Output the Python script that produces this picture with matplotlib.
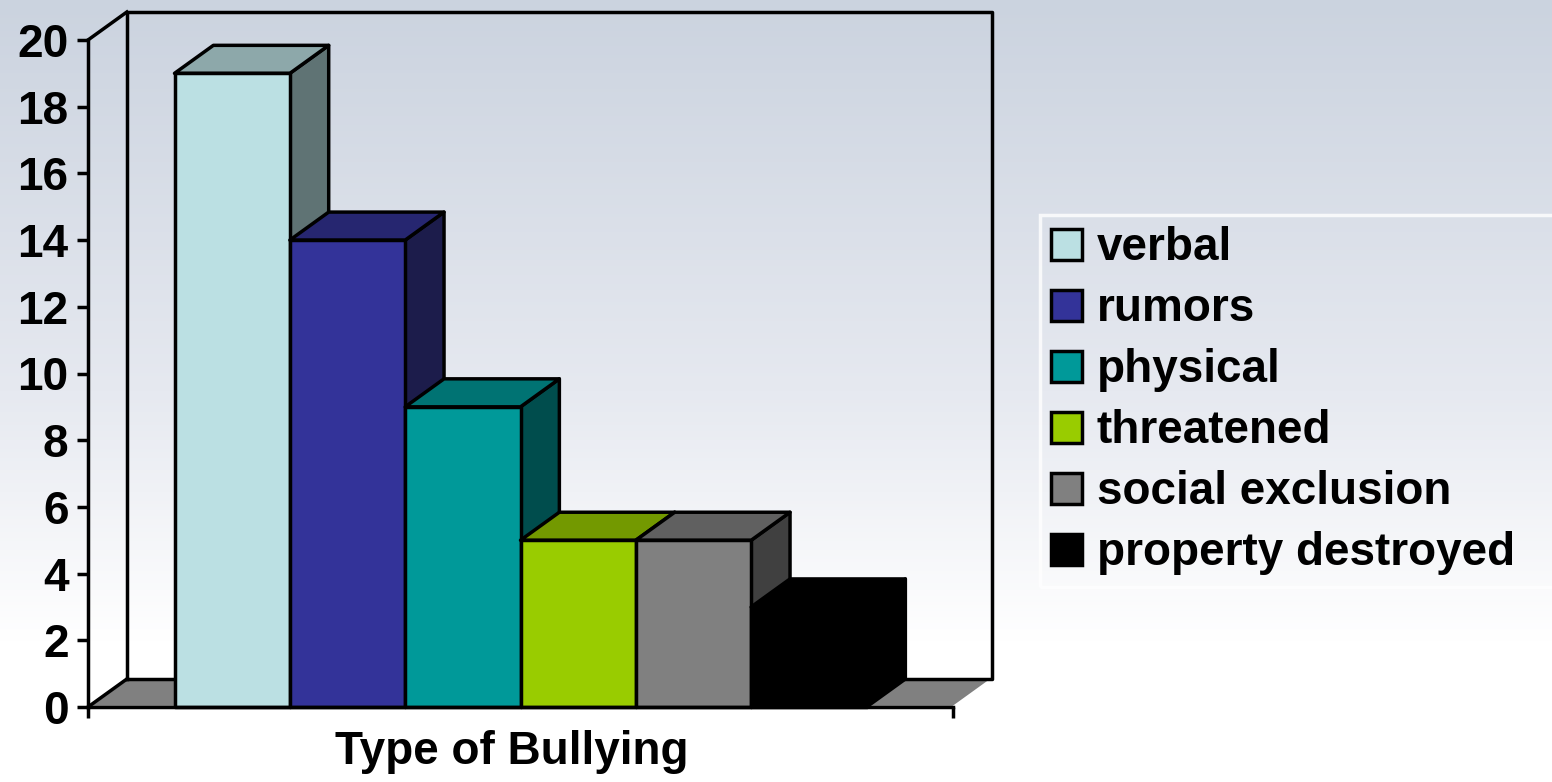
import numpy as np
import matplotlib
matplotlib.use("Agg")
import matplotlib.pyplot as plt
import matplotlib.patches as mpatches
from matplotlib.colors import LinearSegmentedColormap

plt.rcParams["font.family"] = ["Liberation Sans", "DejaVu Sans"]
plt.rcParams["font.weight"] = "bold"

# ── data ─────────────────────────────────────────────
categories = ["verbal", "rumors", "physical", "threatened",
              "social exclusion", "property destroyed"]
values = [19, 14, 9, 5, 5, 3]
y_ticks = [0, 2, 4, 6, 8, 10, 12, 14, 16, 18, 20]
x_label = "Type of Bullying"

front_colors = ["#BBE0E3", "#333399", "#009999", "#99CC00", "#808080", "#000000"]
top_colors   = ["#8DA8AA", "#262670", "#007373", "#739900", "#606060", "#000000"]
side_colors  = ["#5F7374", "#1C1C4B", "#004D4D", "#4D6600", "#404040", "#000000"]

# 3D look (data units): depth offset + gap on each side of the bar group
DX, DY = 0.337, 0.84
GAP = 0.75
LW = 2.5

W, H = 1552, 782
fig = plt.figure(figsize=(W / 100, H / 100), dpi=100)

# background gradient (blue-grey top -> white bottom)
bg = fig.add_axes([0, 0, 1, 1], zorder=-10)
cmap = LinearSegmentedColormap.from_list(
    "bg", [(0.0, "#CBD3DF"), (0.5, "#E6E9F0"), (0.82, "#FFFFFF"), (1.0, "#FFFFFF")])
grad = np.linspace(0, 1, 256).reshape(-1, 1)
bg.imshow(grad, aspect="auto", cmap=cmap, extent=[0, 1, 0, 1], origin="upper")
bg.axis("off")

ax = fig.add_axes([88 / W, (H - 707) / H, 865 / W, 667 / H])
ax.patch.set_visible(False)
n = len(values)
xmin, xmax = -GAP, n + GAP
ymin, ymax = y_ticks[0], y_ticks[-1]
ax.set_xlim(xmin, xmax)
ax.set_ylim(ymin, ymax)

# floor
floor = mpatches.Polygon([(xmin, ymin), (xmax, ymin), (xmax + DX, ymin + DY), (xmin + DX, ymin + DY)],
                         closed=True, facecolor="#808080", edgecolor="white", lw=1.6,
                         clip_on=False, zorder=1)
ax.add_patch(floor)

# walls (outline only, background shows through)
wall_kw = dict(color="black", lw=LW, clip_on=False, zorder=2, solid_capstyle="projecting")
ax.plot([xmin + DX, xmin + DX, xmax + DX, xmax + DX, xmin + DX],
        [ymin + DY, ymax + DY, ymax + DY, ymin + DY, ymin + DY], **wall_kw)
ax.plot([xmin, xmin + DX], [ymax, ymax + DY], **wall_kw)
ax.plot([xmin, xmin + DX], [ymin, ymin + DY], **wall_kw)

# bars, left to right so each front face covers the previous side
for i, (v, fc, tc, sc) in enumerate(zip(values, front_colors, top_colors, side_colors)):
    x0, x1 = i, i + 1
    z = 3 + i
    kw = dict(edgecolor="black", lw=LW, joinstyle="round", clip_on=False, zorder=z)
    side = mpatches.Polygon([(x1, ymin), (x1 + DX, ymin + DY), (x1 + DX, v + DY), (x1, v)],
                            closed=True, facecolor=sc, **kw)
    top = mpatches.Polygon([(x0, v), (x1, v), (x1 + DX, v + DY), (x0 + DX, v + DY)],
                           closed=True, facecolor=tc, **kw)
    front = mpatches.Rectangle((x0, ymin), 1, v, facecolor=fc, **kw)
    for p in (side, top, front):
        ax.add_patch(p)

# axes styling
for s in ("top", "right"):
    ax.spines[s].set_visible(False)
for s in ("left", "bottom"):
    ax.spines[s].set_linewidth(LW)
    ax.spines[s].set_zorder(20)
ax.set_yticks(y_ticks)
ax.set_yticklabels([str(t) for t in y_ticks], fontsize=33, fontweight="bold")
ax.set_xticks([xmin, xmax])
ax.set_xticklabels(["", ""])
ax.tick_params(axis="both", direction="out", length=8, width=LW, pad=6)

ax.set_xlabel(x_label, fontsize=33, fontweight="bold")
ax.xaxis.set_label_coords(0.49, -0.034)

# legend (box runs off the right edge like the original)
handles = [mpatches.Patch(facecolor=c, edgecolor="black", lw=LW, label=lab)
           for c, lab in zip(front_colors, categories)]
leg = fig.legend(handles=handles, loc="upper left", mode="expand",
                 bbox_to_anchor=(1040 / W, 1 - 215 / H, 530 / W, 0.0),
                 bbox_transform=fig.transFigure,
                 prop=dict(family="Liberation Sans", weight="bold", size=33),
                 frameon=True, fancybox=False, borderpad=0.25, borderaxespad=0,
                 handlelength=0.66, handleheight=0.66, handletextpad=0.33,
                 labelspacing=0.37)
leg.get_frame().set_facecolor("none")
leg.get_frame().set_edgecolor("white")
leg.get_frame().set_linewidth(2.5)

fig.savefig("out.png", dpi=100)
